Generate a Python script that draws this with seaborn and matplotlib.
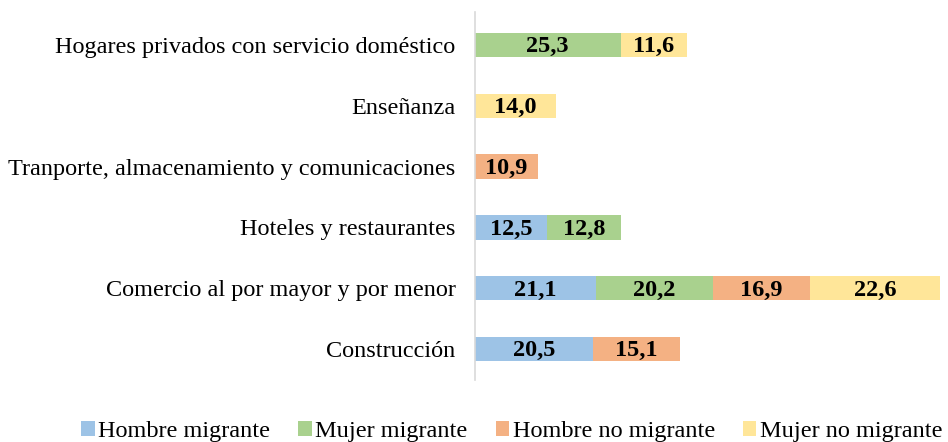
import pandas as pd
import seaborn as sns
import matplotlib.pyplot as plt
from matplotlib.patches import Patch

sns.set_theme(style='white')
plt.rcParams['font.family'] = ['Liberation Serif', 'DejaVu Serif']
plt.rcParams['text.color'] = 'black'
plt.rcParams['ytick.color'] = 'black'

categorias = ['Hogares privados con servicio doméstico', 'Enseñanza',
              'Tranporte, almacenamiento y comunicaciones', 'Hoteles y restaurantes',
              'Comercio al por mayor y por menor', 'Construcción']
series = ['Hombre migrante', 'Mujer migrante', 'Hombre no migrante', 'Mujer no migrante']
hombre_migrante = [0, 0, 0, 12.5, 21.1, 20.5]
mujer_migrante = [25.3, 0, 0, 12.8, 20.2, 0]
hombre_no_migrante = [0, 0, 10.9, 0, 16.9, 15.1]
mujer_no_migrante = [11.6, 14.0, 0, 0, 22.6, 0]
colores = ['#9DC3E6', '#A9D18E', '#F4B183', '#FFE699']

df = pd.DataFrame({'cat': categorias, series[0]: hombre_migrante, series[1]: mujer_migrante,
                   series[2]: hombre_no_migrante, series[3]: mujer_no_migrante})
cum = df[series].cumsum(axis=1)
start = cum - df[series]

fig = plt.figure(figsize=(9.48, 4.42), dpi=100)
ax = fig.add_axes([0.501, 0.140, 0.4905, 0.833])

# stacked: draw the cumulative totals from last to first
for s, c in reversed(list(zip(series, colores))):
    sns.barplot(x=cum[s], y=df['cat'], order=categorias, orient='h', color=c,
                width=0.4, saturation=1, ax=ax, linewidth=0)

for i, cat in enumerate(categorias):
    for s in series:
        v = df.loc[i, s]
        if v > 0:
            ax.text(start.loc[i, s] + v / 2, i + 0.03, f'{v:.1f}'.replace('.', ','),
                    ha='center', va='center', fontsize=17.5, fontweight='bold', color='black')

ax.set_xlim(0, 80.8)
ax.set_ylim(5.51, -0.543)
ax.set_xlabel('')
ax.set_ylabel('')
ax.set_xticks([])
ax.tick_params(axis='y', length=0, pad=14, labelsize=17.5, labelcolor='black')
for sp in ['top', 'right', 'bottom']:
    ax.spines[sp].set_visible(False)
ax.spines['left'].set_color('#D9D9D9')
ax.spines['left'].set_linewidth(1.2)

handles = [Patch(facecolor=c, edgecolor='none', label=s) for s, c in zip(series, colores)]
fig.legend(handles=handles, loc='lower center', bbox_to_anchor=(0.54, -0.05), ncol=4,
           frameon=False, fontsize=17.5, handlelength=0.55, handleheight=0.55,
           handletextpad=0.15, columnspacing=1.15)

plt.savefig('out.png', dpi=100)
